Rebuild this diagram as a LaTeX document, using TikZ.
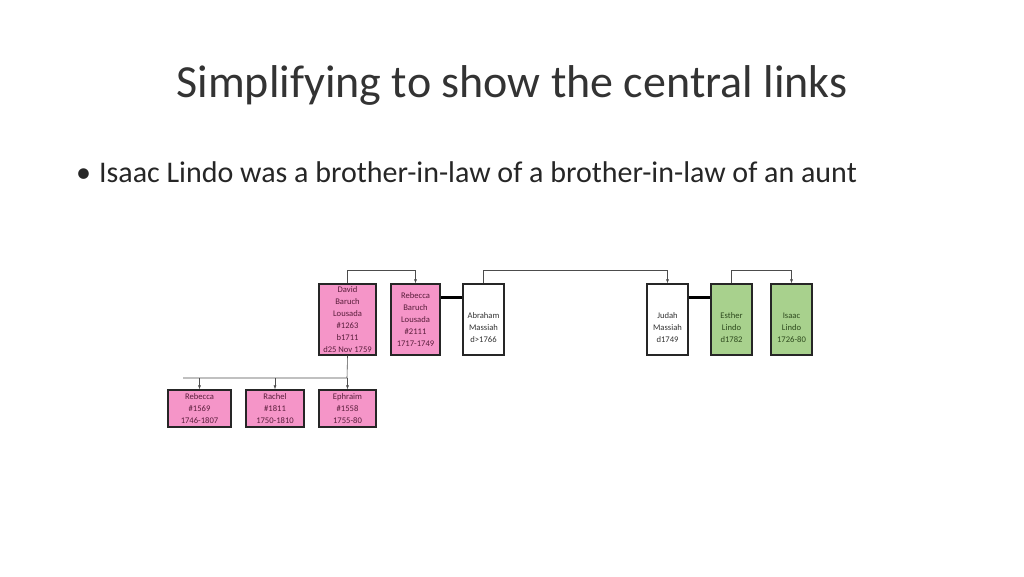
\documentclass[tikz,border=0pt]{standalone}
\usepackage{fontspec}
\setmainfont{Carlito}
\begin{document}
\begin{tikzpicture}[x=1pt,y=-1pt,
 pbox/.style={draw=black!85,line width=1.2pt,fill=pinkc,align=center,inner sep=0pt,text=pinkt,font=\fontsize{8.6}{12}\selectfont},
 gbox/.style={pbox,fill=greenc,text=greent},
 wbox/.style={pbox,fill=white,text=black!80},
 lbl/.style={font=\fontsize{8.6}{12}\selectfont,align=center,anchor=south},
 link/.style={draw=black!70,line width=0.6pt},
 arr/.style={link,-{Latex[length=4pt,width=3pt]}},
 thick link/.style={line width=3pt,black}]
\usetikzlibrary{arrows.meta}
\definecolor{pinkc}{HTML}{F595C8}
\definecolor{pinkt}{HTML}{5A1E3C}
\definecolor{greenc}{HTML}{A8D18D}
\definecolor{greent}{HTML}{2E4A1E}
\useasboundingbox (0,0) rectangle (1024,576);
\node[font=\fontsize{46}{50}\selectfont,text=black!80] (title) at (512,85) {Simplifying to show the central links};
\node[anchor=west,font=\fontsize{30}{34}\selectfont,text=black!85,inner sep=0pt] (bullet) at (76,172) {•\hspace{8pt}Isaac Lindo was a brother-in-law of a brother-in-law of an aunt};
% top row
\node[pbox,minimum width=57pt,minimum height=71pt] (david) at (347.5,319.5) {David\\Baruch\\Lousada\\\#1263\\b1711\\d25 Nov 1759};
\node[pbox,minimum width=49pt,minimum height=71pt] (rebb) at (415.5,319.5) {Rebecca\\Baruch\\Lousada\\\#2111\\1717-1749};
\node[wbox,minimum width=41pt,minimum height=71pt] (abr) at (483.5,319.5) {};
\node[lbl,text=black!80] (abrt) at (abr.south) {Abraham\\Massiah\\d>1766\\[-2pt]};
\node[wbox,minimum width=41pt,minimum height=71pt] (jud) at (667.5,319.5) {};
\node[lbl,text=black!80] (judt) at (jud.south) {Judah\\Massiah\\d1749\\[-2pt]};
\node[gbox,minimum width=41pt,minimum height=71pt] (est) at (731.5,319.5) {};
\node[lbl,text=greent] (estt) at (est.south) {Esther\\Lindo\\d1782\\[-2pt]};
\node[gbox,minimum width=41pt,minimum height=71pt] (isa) at (791.5,319.5) {};
\node[lbl,text=greent] (isat) at (isa.south) {Isaac\\Lindo\\1726-80\\[-2pt]};
% bottom row
\node[pbox,minimum width=63pt,minimum height=37pt] (reb) at (199.5,408.5) {Rebecca\\\#1569\\1746-1807};
\node[pbox,minimum width=58pt,minimum height=37pt] (rac) at (275,408.5) {Rachel\\\#1811\\1750-1810};
\node[pbox,minimum width=57pt,minimum height=37pt] (eph) at (347.5,408.5) {Ephraim\\\#1558\\1755-80};
% sibling brackets
\draw[arr] (david.north) -- ++(0,-13) -| (rebb.north);
\draw[arr] (abr.north) -- ++(0,-13) -| (jud.north);
\draw[arr] (est.north) -- ++(0,-13) -| (isa.north);
% marriages
\draw[thick link] (rebb.east |- 0,297) -- (abr.west |- 0,297);
\draw[thick link] (jud.east |- 0,297) -- (est.west |- 0,297);
% children
\coordinate (cl) at (183,378);
\draw[link] (david.south) -- (347,378) -- (cl);
\draw[arr] (reb.north |- cl) -- (reb.north);
\draw[arr] (rac.north |- cl) -- (rac.north);
\draw[arr] (eph.north |- cl) -- (eph.north);
\end{tikzpicture}
\end{document}
